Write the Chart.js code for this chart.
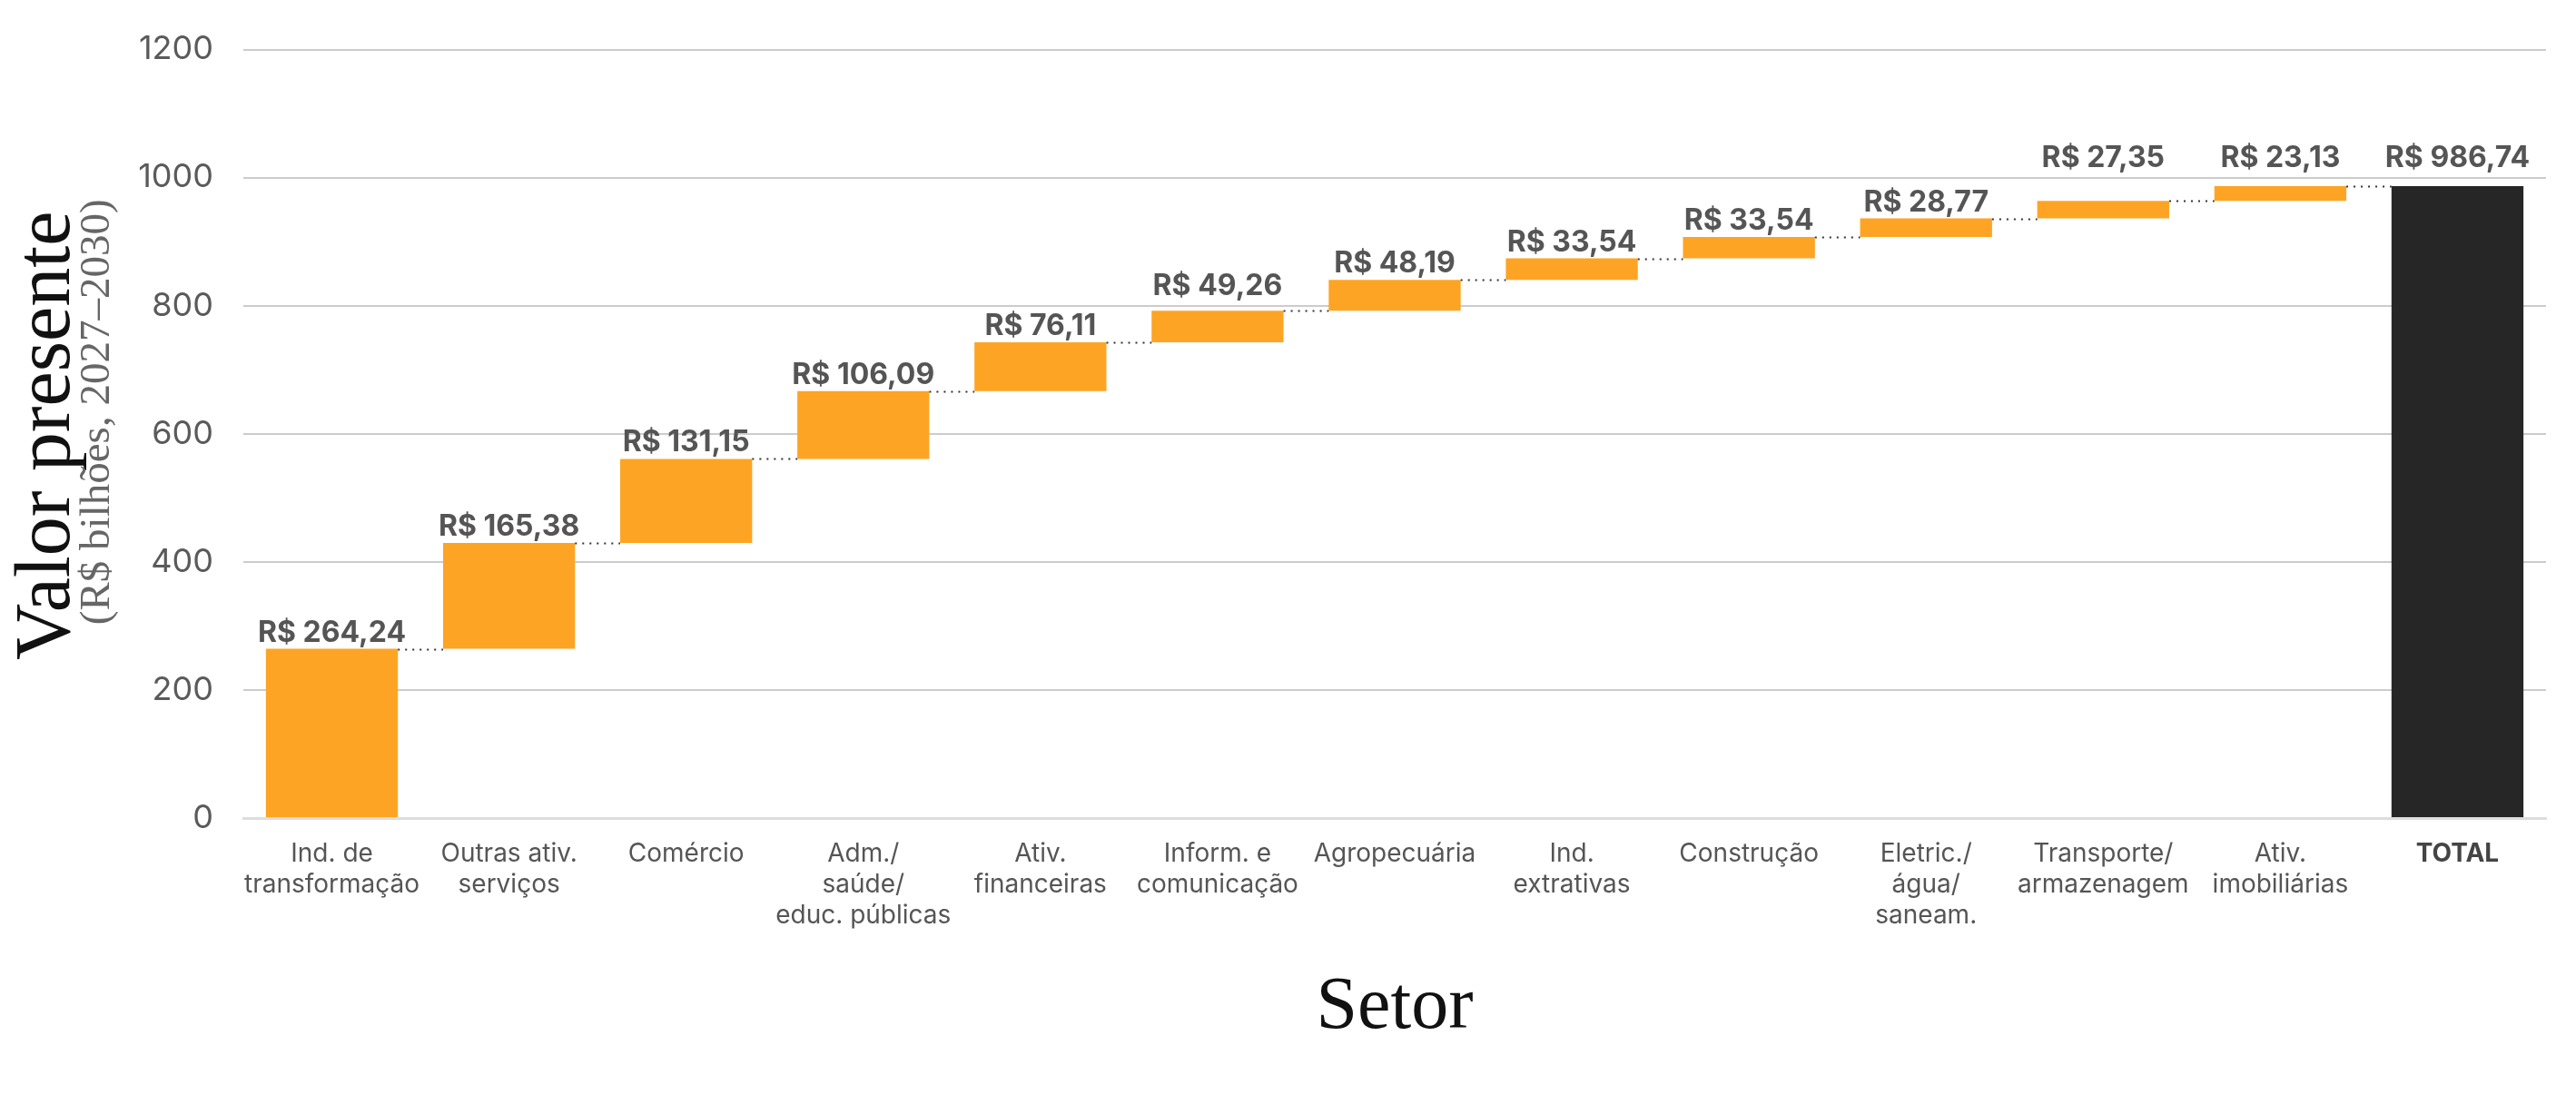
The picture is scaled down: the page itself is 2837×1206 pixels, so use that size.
<!DOCTYPE html>
<html>
<head>
<meta charset="utf-8">
<script src="https://cdn.jsdelivr.net/npm/chart.js@4.4.1/dist/chart.umd.min.js"></script>
<style>
  html, body { margin: 0; padding: 0; background: #ffffff; }
  #wrap { width: 2837px; height: 1206px; }
</style>
</head>
<body>
<div id="wrap"><canvas id="graficoSetor" width="2837" height="1206"></canvas></div>
<script>
// dados do gráfico (R$ bilhões)
const setores = [
  ["Ind. de", "transformação"],
  ["Outras ativ.", "serviços"],
  ["Comércio"],
  ["Adm./", "saúde/", "educ. públicas"],
  ["Ativ.", "financeiras"],
  ["Inform. e", "comunicação"],
  ["Agropecuária"],
  ["Ind.", "extrativas"],
  ["Construção"],
  ["Eletric./", "água/", "saneam."],
  ["Transporte/", "armazenagem"],
  ["Ativ.", "imobiliárias"],
  ["TOTAL"]
];
const contribuicoes = [264.24, 165.38, 131.15, 106.09, 76.11, 49.26, 48.19, 33.54, 33.54, 28.77, 27.35, 23.13];
const total = 986.74;
const ticksY = [0, 200, 400, 600, 800, 1000, 1200];

const LARANJA = "#FEA424";
const ESCURO = "#262626";
const CINZA = "#555555";

// barras flutuantes [inicio, fim]
const barras = [];
const rotulos = [];
let acumulado = 0;
contribuicoes.forEach((v) => {
  barras.push([acumulado, acumulado + v]);
  acumulado += v;
  rotulos.push(v);
});
barras.push([0, total]);
rotulos.push(total);

const cores = barras.map((b, i) => i === barras.length - 1 ? ESCURO : LARANJA);

function formatar(v) {
  return "R$ " + v.toFixed(2).replace(".", ",");
}

// linhas pontilhadas, valores e títulos
const extras = {
  id: "extras",
  afterDatasetsDraw(chart) {
    const ctx = chart.ctx;
    const meta = chart.getDatasetMeta(0);
    const y = chart.scales.y;

    ctx.save();
    ctx.strokeStyle = "#333";
    ctx.lineWidth = 2;
    ctx.setLineDash([2, 6]);
    for (let i = 0; i < meta.data.length - 1; i++) {
      const a = meta.data[i];
      const b = meta.data[i + 1];
      const py = Math.round(y.getPixelForValue(barras[i][1])) + 0.5;
      ctx.beginPath();
      ctx.moveTo(a.x + a.width / 2, py);
      ctx.lineTo(b.x - b.width / 2, py);
      ctx.stroke();
    }
    ctx.restore();

    // rótulos: sobem acima da linha de grade quando ela cortaria a base do texto
    const linhas = ticksY.map((v) => y.getPixelForValue(v));
    ctx.save();
    ctx.fillStyle = CINZA;
    ctx.font = "700 32px Inter";
    ctx.textAlign = "center";
    ctx.textBaseline = "alphabetic";
    meta.data.forEach((el, i) => {
      let base = y.getPixelForValue(barras[i][1]) - 8;
      linhas.forEach((g) => {
        if (g > base - 18.5 && g < base + 10) base = g - 12;
      });
      ctx.fillText(formatar(rotulos[i]), el.x, base);
    });
    ctx.restore();

    const area = chart.chartArea;
    ctx.save();
    ctx.textAlign = "center";
    ctx.textBaseline = "alphabetic";
    ctx.fillStyle = "#111";
    ctx.font = "82px 'Liberation Serif'";
    ctx.fillText("Setor", (area.left + area.right) / 2, 1132);

    ctx.translate(76, (area.top + area.bottom) / 2 + 2);
    ctx.rotate(-Math.PI / 2);
    ctx.font = "86px 'Liberation Serif'";
    ctx.fillText("Valor presente", 0, 0);
    ctx.fillStyle = "#666";
    ctx.font = "47px 'Liberation Serif'";
    ctx.fillText("(R$ bilhões, 2027–2030)", 26, 44);
    ctx.restore();
  }
};

const grafico = new Chart(document.getElementById("graficoSetor").getContext("2d"), {
  type: "bar",
  data: {
    labels: setores,
    datasets: [{
      data: barras,
      backgroundColor: cores,
      borderWidth: 0,
      categoryPercentage: 1,
      barPercentage: 0.745
    }]
  },
  options: {
    responsive: false,
    animation: false,
    devicePixelRatio: 1,
    layout: { padding: { top: 47, right: 33, left: 0, bottom: 0 } },
    plugins: {
      legend: { display: false },
      tooltip: { enabled: false }
    },
    scales: {
      x: {
        grid: { display: false, drawTicks: false },
        border: { display: true, color: "#dddddd", width: 3 },
        ticks: {
          color: (c) => c.index === setores.length - 1 ? "#444" : CINZA,
          font: (c) => ({
            family: "Inter",
            size: 28,
            weight: c.index === setores.length - 1 ? "700" : "400",
            lineHeight: 1.22
          }),
          padding: 22,
          maxRotation: 0,
          autoSkip: false
        },
        afterFit(scale) { scale.height = 305; }
      },
      y: {
        min: 0,
        max: 1200,
        afterBuildTicks(scale) { scale.ticks = ticksY.map((v) => ({ value: v })); },
        grid: { color: "#cccccc", lineWidth: 2, drawTicks: false },
        border: { display: false },
        ticks: {
          color: "#5a5a5a",
          font: { family: "Inter", size: 36 },
          padding: 33,
          callback: (v) => String(v)
        },
        afterFit(scale) { scale.width = 268; }
      }
    }
  },
  plugins: [extras]
});
</script>
</body>
</html>
